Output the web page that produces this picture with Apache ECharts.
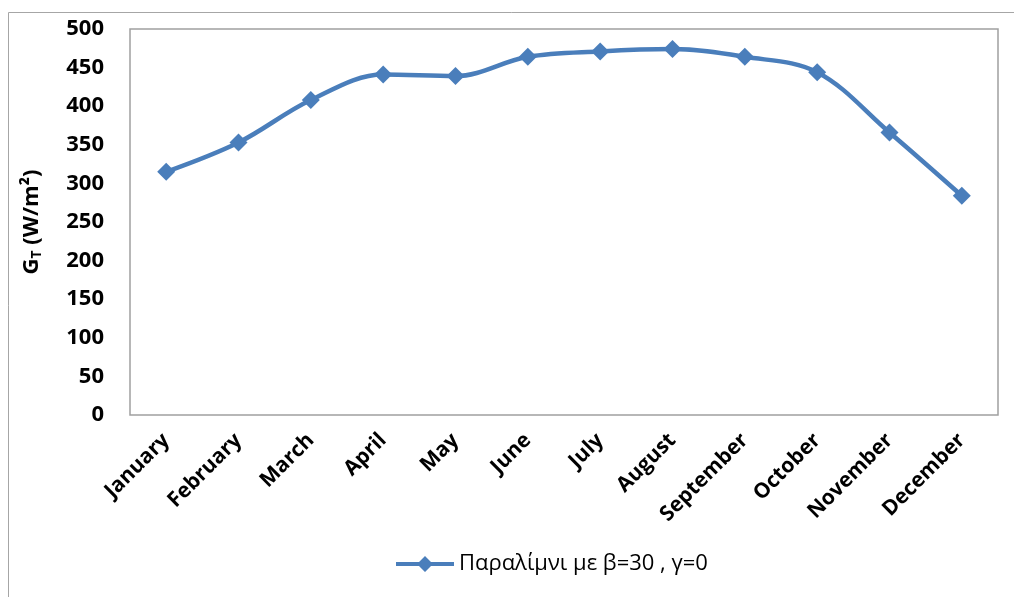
<!DOCTYPE html>
<html><head><meta charset="utf-8">
<script src="https://cdn.jsdelivr.net/npm/echarts@6/dist/echarts.min.js"></script>
<style>html,body{margin:0;padding:0;background:#fff}#c{width:1014px;height:597px}</style>
</head><body><div id="c"></div>
<script>
const months = ['January','February','March','April','May','June','July','August','September','October','November','December'];
const values = [315, 353, 408, 441, 439, 464, 471, 474, 464, 444, 366, 284];
const seriesName = 'Παραλίμνι με β=30 , γ=0';
const yTicks = {min: 0, max: 500, interval: 50};

const FONT = '"Open Sans", sans-serif';
const chart = echarts.init(document.getElementById('c'));
chart.setOption({
  animation: false,
  graphic: [{type:'rect', shape:{x:8.5,y:12.5,width:1200,height:800}, style:{fill:'none', stroke:'#a6a6a6', lineWidth:1}, silent:true}],
  grid: {left:130, top:29, right:16, bottom:182, show:true, borderColor:'#a0a0a0', borderWidth:1.5, backgroundColor:'transparent', containLabel:false},
  legend: {
    top: 548, left: 391, itemWidth: 58, itemHeight: 16, itemGap: 10,
    textStyle: {fontFamily: FONT, fontSize: 22, color:'#000'},
    data: [{name: seriesName, icon: 'path://M0,6 L23,6 L29,0 L35,6 L58,6 L58,10 L35,10 L29,16 L23,10 L0,10 Z'}]
  },
  xAxis: {
    type:'category', data: months, boundaryGap:true,
    axisLine:{show:false}, axisTick:{show:false}, splitLine:{show:false},
    axisLabel:{rotate:45, margin:22, interval:0, padding:[28,0,0,0], fontFamily: FONT, fontSize:21, fontWeight:'bold', color:'#000'}
  },
  yAxis: {
    type:'value', min:yTicks.min, max:yTicks.max, interval:yTicks.interval,
    axisLine:{show:false}, axisTick:{show:false}, splitLine:{show:false},
    axisLabel:{margin:26, fontFamily: FONT, fontSize:22, fontWeight:'bold', color:'#000'},
    name:'{a|G}{s|T}{a| (W/m²)}', nameLocation:'middle', nameRotate:90, nameGap:86,
    nameTextStyle:{
      rich:{
        a:{fontFamily: FONT, fontSize:22, fontWeight:'bold', color:'#000'},
        s:{fontFamily: FONT, fontSize:14, fontWeight:'bold', color:'#000', verticalAlign:'bottom', padding:[10,0,0,0]}
      }
    }
  },
  series: [{
    name: seriesName, type:'line', data: values, smooth:0.35,
    symbol:'diamond', symbolSize:18,
    lineStyle:{color:'#4a7ebb', width:4.5},
    itemStyle:{color:'#4a7ebb'}
  }]
});
</script></body></html>
